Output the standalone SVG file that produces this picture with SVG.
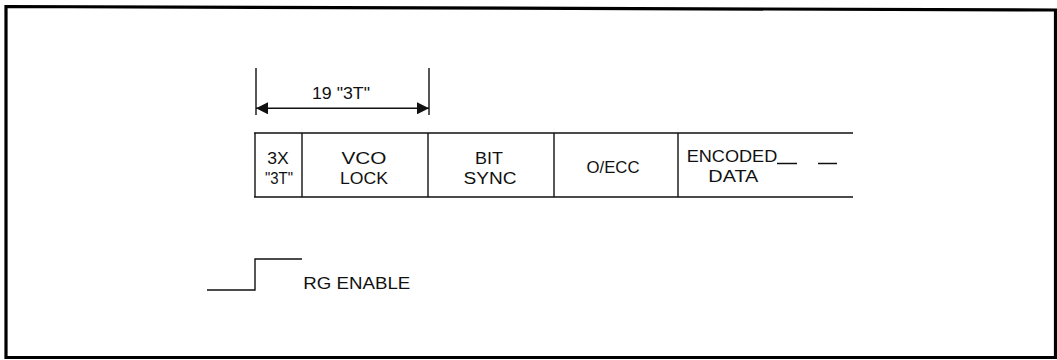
<svg xmlns="http://www.w3.org/2000/svg" width="1057" height="360" viewBox="0 0 1057 360">
<style>
.ln{stroke:#111;stroke-width:1.4;fill:none}
.t{font-family:"Liberation Sans",Arial,sans-serif;font-size:16px;fill:#111}
.tl{font-family:"Liberation Sans",Arial,sans-serif;font-size:17px;fill:#111}
</style>
<defs>
<marker id="ah" viewBox="0 0 12 12" refX="12" refY="6" markerWidth="12" markerHeight="12" markerUnits="userSpaceOnUse" orient="auto-start-reverse">
<path d="M0,0 L12,6 L0,12 Z" fill="#111"/>
</marker>
</defs>
<rect width="1057" height="360" fill="#fff"/>
<path d="M6,6.5 L1055.5,10 L1055.5,357.5 L6,357.5 Z" fill="none" stroke="#000" stroke-width="3.2"/>
<g id="frame-lines">
<path class="ln" d="M254,133 H853 M254,197 H853"/>
</g>
<g id="cell-3x">
<path class="ln" d="M255,133 V197"/>
<text class="t" x="278" y="164" text-anchor="middle" textLength="21.5" lengthAdjust="spacingAndGlyphs">3X</text>
<text class="t" x="279" y="183.5" text-anchor="middle" textLength="28" lengthAdjust="spacingAndGlyphs">"3T"</text>
</g>
<g id="cell-vco">
<path class="ln" d="M302,133 V197"/>
<text class="t" x="364" y="164" text-anchor="middle" textLength="45" lengthAdjust="spacingAndGlyphs">VCO</text>
<text class="t" x="364" y="183.5" text-anchor="middle" textLength="48" lengthAdjust="spacingAndGlyphs">LOCK</text>
</g>
<g id="cell-bit">
<path class="ln" d="M428,133 V197"/>
<text class="t" x="489" y="164" text-anchor="middle" textLength="28" lengthAdjust="spacingAndGlyphs">BIT</text>
<text class="t" x="490" y="183.5" text-anchor="middle" textLength="53" lengthAdjust="spacingAndGlyphs">SYNC</text>
</g>
<g id="cell-oecc">
<path class="ln" d="M554,133 V197"/>
<text class="t" x="613" y="173" text-anchor="middle" textLength="53" lengthAdjust="spacingAndGlyphs">O/ECC</text>
</g>
<g id="cell-encoded">
<path class="ln" d="M678,133 V197"/>
<text class="t" x="686.7" y="162" textLength="90.6" lengthAdjust="spacingAndGlyphs">ENCODED</text>
<text class="t" x="708.3" y="182" textLength="50" lengthAdjust="spacingAndGlyphs">DATA</text>
<path class="ln" d="M777,163.5 H797 M818,163.5 H837"/>
</g>
<g id="connectors">
<path class="ln" d="M256,68 V115 M429,68 V115"/>
<path class="ln" d="M256,108.3 H429" marker-start="url(#ah)" marker-end="url(#ah)"/>
<text class="tl" x="341" y="99" text-anchor="middle" textLength="58" lengthAdjust="spacingAndGlyphs">19 "3T"</text>
</g>
<g id="rg-enable">
<path class="ln" d="M207,290 H255 V259 H302"/>
<text class="tl" x="303.3" y="289" textLength="107" lengthAdjust="spacingAndGlyphs">RG ENABLE</text>
</g>
</svg>
